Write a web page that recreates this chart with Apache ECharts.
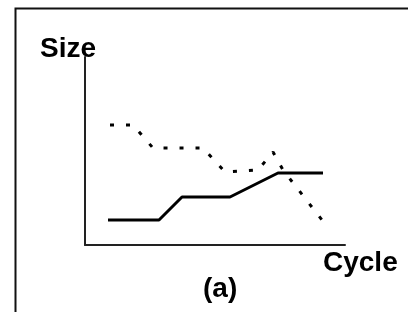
<!DOCTYPE html>
<html>
<head>
<meta charset="utf-8">
<script src="https://cdn.jsdelivr.net/npm/echarts@6/dist/echarts.min.js"></script>
<style>
  html, body { margin: 0; padding: 0; background: #fff; }
  #main { width: 408px; height: 312px; }
</style>
</head>
<body>
<div id="main"></div>
<script>
// values (arbitrary units, cycle along x, size along y)
var solidCycle = [23, 74, 97, 145, 193, 238];
var solidSize = [25, 25, 48, 48, 72, 72];
var dashCycle = [25, 48, 68, 118, 140, 173, 188, 198, 237];
var dashSize = [120, 120, 97, 97, 73, 75, 93, 75, 25];
var yName = 'Size';
var xName = 'Cycle';
var caption = '(a)';

function pairs(xs, ys) {
  return xs.map(function (x, i) { return [x, ys[i]]; });
}

var chart = echarts.init(document.getElementById('main'));
var axisLine = { show: true, lineStyle: { color: '#222', width: 2 } };

function label(text, x, y) {
  return {
    type: 'text', x: x, y: y, z: 10,
    style: {
      text: text, fontFamily: 'Liberation Sans', fontWeight: 'bold',
      fontSize: 28, fill: '#000', verticalAlign: 'middle'
    }
  };
}

chart.setOption({
  backgroundColor: '#ffffff',
  animation: false,
  grid: { left: 85, right: 63, top: 57, bottom: 67 },
  xAxis: {
    type: 'value', min: 0, max: 260,
    axisLine: axisLine, axisTick: { show: false },
    axisLabel: { show: false }, splitLine: { show: false }
  },
  yAxis: {
    type: 'value', min: 0, max: 188,
    axisLine: axisLine, axisTick: { show: false },
    axisLabel: { show: false }, splitLine: { show: false }
  },
  series: [
    {
      type: 'line', data: pairs(solidCycle, solidSize),
      symbol: 'none', lineStyle: { color: '#000', width: 3 }
    },
    {
      type: 'line', data: pairs(dashCycle, dashSize),
      symbol: 'none', lineStyle: { color: '#000', width: 3, type: [4, 12] }
    }
  ],
  graphic: [
    {
      type: 'rect', left: 13, top: 6, silent: true,
      shape: { width: 420, height: 320 },
      style: { fill: 'none', stroke: '#111', lineWidth: 2 }
    },
    label(yName, 40, 49),
    label(xName, 323, 263),
    label(caption, 203, 289)
  ]
});
</script>
</body>
</html>
